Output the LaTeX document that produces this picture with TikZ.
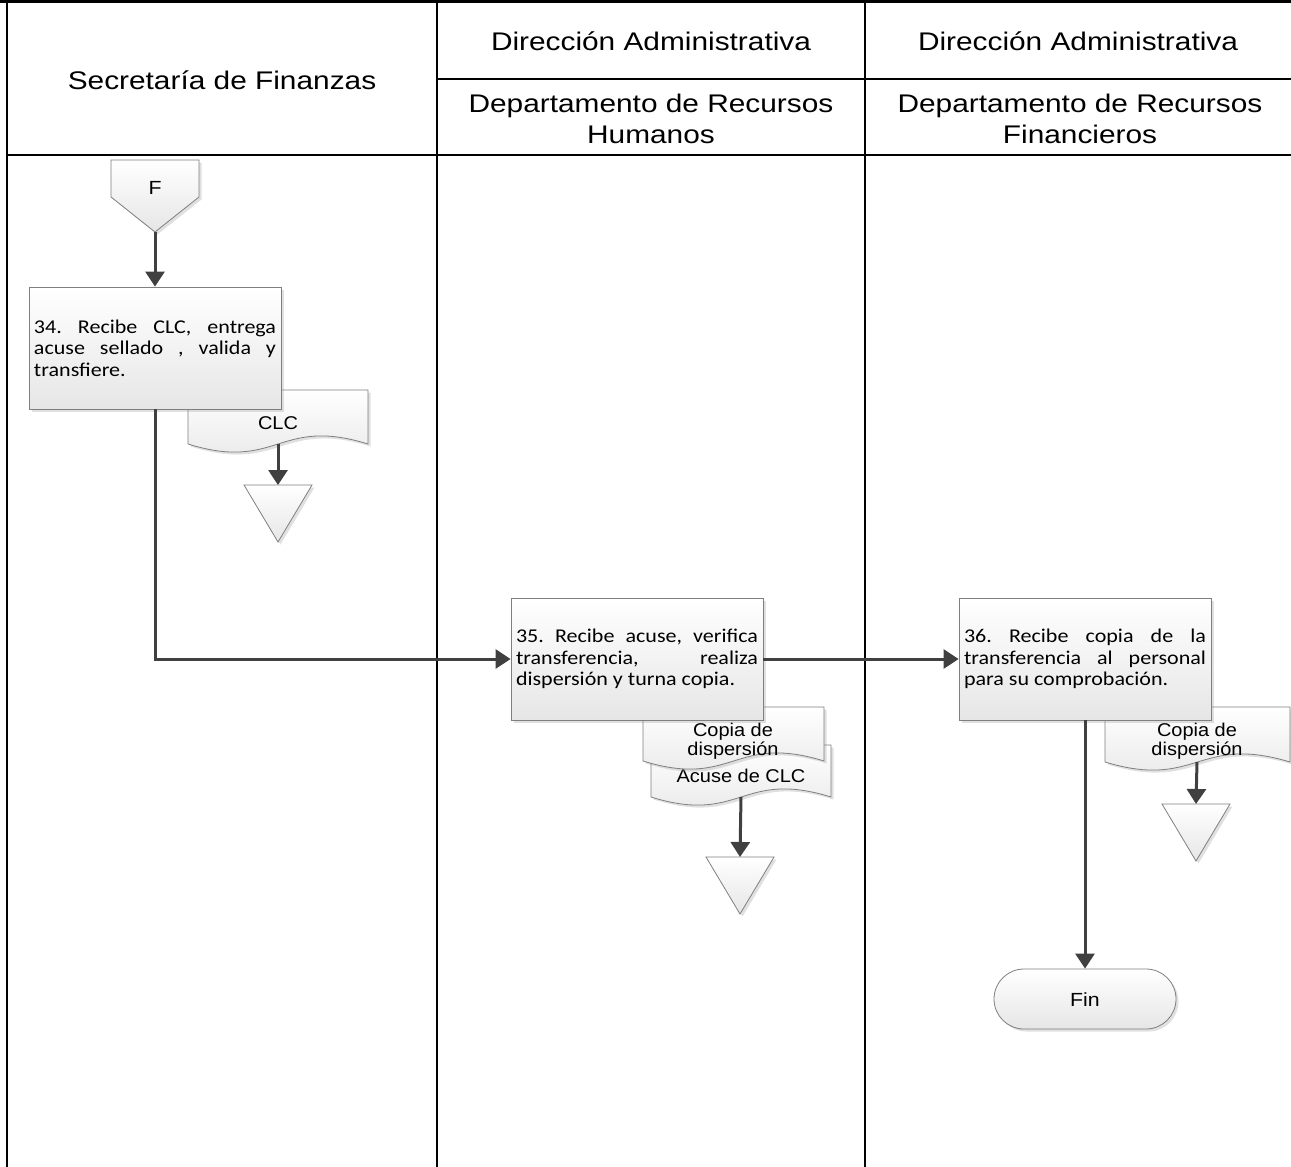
\documentclass[tikz,border=0pt]{standalone}
\usepackage{fontspec}
\setmainfont{Liberation Sans}
\newfontfamily\hdrfont[FakeStretch=1.17]{Liberation Sans}
\newfontfamily\boxfont[FakeStretch=1.13]{Carlito}
\newfontfamily\docfont[FakeStretch=1.08]{Liberation Sans}
\newfontfamily\termfont[FakeStretch=1.12]{Liberation Sans}
\usetikzlibrary{arrows.meta,shadows}

\definecolor{edge}{HTML}{7F7F7F}
\definecolor{flow}{HTML}{404040}
\definecolor{shadeb}{HTML}{E6E6E6}

\tikzset{
  lane/.style={line width=2.5pt, draw=black},
  hdr/.style={font=\hdrfont\fontsize{25.5pt}{31pt}\selectfont, align=center, anchor=base, inner sep=0pt},
  softshadow/.style={drop shadow={shadow xshift=2.5pt, shadow yshift=-2.5pt, opacity=0.3, fill=black!40}},
  shapefill/.style={top color=white, bottom color=shadeb, draw=edge, line width=0.8pt},
  stepbox/.style={shapefill, softshadow, rectangle, minimum width=252pt, minimum height=122pt,
    text width=242pt, inner xsep=5pt, align=justify,
    font=\boxfont\fontsize{19.5pt}{21.5pt}\selectfont\frenchspacing},
  doctext/.style={font=\docfont\fontsize{18.5pt}{17pt}\selectfont, align=center, anchor=base, inner sep=0pt},
  lbl/.style={font=\termfont\fontsize{19pt}{22pt}\selectfont, anchor=base, inner sep=0pt},
  term/.style={shapefill, softshadow, rectangle, rounded corners=30pt, minimum width=182pt, minimum height=60pt},
  arr/.style={draw=flow, line width=3pt, -{Triangle[length=15pt,width=19pt]}},
}

% document symbol: flat top, wavy bottom (x0, y0, x1, yb)
\newcommand\docshape[4]{%
  \draw[shapefill, softshadow] (#1,#2) -- (#3,#2) -- (#3,#4)
    .. controls ({(#1+#3)/2},#4-28) and ({(#1+#3)/2},#4+28) .. (#1,#4) -- cycle;}
% archive symbol: inverted triangle hanging from a named top point
\newcommand\archive[1]{%
  \draw[shapefill, softshadow] (#1) ++(-34,0) -- ++(68,0) -- ++(-34,57) -- cycle;}

\begin{document}
\begin{tikzpicture}[x=1pt, y=-1pt]
\useasboundingbox (0,0) rectangle (1291,1167);

% swimlane frame
\draw[lane] (0,1.25) -- (1291,1.25);
\draw[lane] (7,1.25) -- (7,1167);
\draw[lane] (437,1.25) -- (437,1167);
\draw[lane] (865,1.25) -- (865,1167);
\draw[lane] (437,79) -- (1291,79);
\draw[lane] (7,155) -- (1291,155);

% lane headings (two-line nodes sit on their last baseline)
\node[hdr] (h1) at (222,89) {Secretaría de Finanzas};
\node[hdr] (h2a) at (651,50) {Dirección Administrativa};
\node[hdr] (h2b) at (651,143) {Departamento de Recursos\\Humanos};
\node[hdr] (h3a) at (1078,50) {Dirección Administrativa};
\node[hdr] (h3b) at (1080,143) {Departamento de Recursos\\Financieros};

% off-page connector F
\draw[shapefill, softshadow] (111,160) -- (199,160) -- (199,197) -- (155,232) -- (111,197) -- cycle;
\node[lbl] (F) at (155,194) {F};
\coordinate (Ftip) at (155,232);

% step 34 with its document
\docshape{188}{390}{368}{444}
\node[doctext] (clc) at (278,429) {CLC};
\coordinate (clcb) at (278,444);
\node[stepbox] (b34) at (155,348) {34. Recibe CLC, entrega\linebreak acuse sellado , valida y\linebreak transfiere.};

% step 35 with its documents
\docshape{651}{745}{831}{797}
\node[doctext] (acuse) at (741,782) {Acuse de CLC};
\coordinate (acuseb) at (741,797);
\docshape{643}{707}{824}{761}
\node[doctext] (copia1) at (733,755) {Copia de\\dispersión};
\node[stepbox] (b35) at (637,659) {35. Recibe acuse, verifica\linebreak transferencia, realiza\linebreak dispersión y turna copia.};

% step 36 with its document
\docshape{1105}{707}{1290}{762}
\node[doctext] (copia2) at (1197,755) {Copia de\\dispersión};
\coordinate (copia2b) at (1197,762);
\node[stepbox] (b36) at (1085,659) {36. Recibe copia de la\linebreak transferencia al personal\linebreak para su comprobación.};

% archives
\coordinate (t1) at (278,485);
\archive{t1}
\coordinate (t2) at (740,857);
\archive{t2}
\coordinate (t3) at (1196,804);
\archive{t3}

% end terminator
\node[term] (fin) at (1085,999) {};
\node[lbl] (fintext) at (1085,1006) {Fin};

% flow
\draw[arr] (Ftip) -- (b34.north);
\draw[arr] (b34.south) |- (b35.west);
\draw[arr] (b35.east) -- (b36.west);
\draw[arr] (b36.south) -- (fin.north);
\draw[arr] (clcb) -- (t1);
\draw[arr] (acuseb) -- (t2);
\draw[arr] (copia2b) -- (t3);
\end{tikzpicture}
\end{document}
